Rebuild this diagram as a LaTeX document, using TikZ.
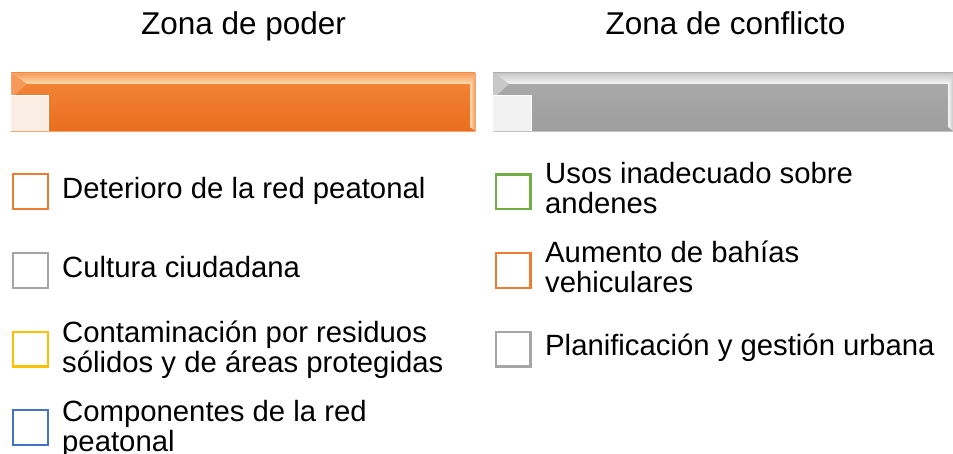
\documentclass[tikz,border=0pt]{standalone}
\usepackage{fontspec}
\setmainfont{Liberation Sans}
\definecolor{cOrange}{HTML}{ED7D31}
\definecolor{cGray}{HTML}{A5A5A5}
\definecolor{cYellow}{HTML}{FFC000}
\definecolor{cBlue}{HTML}{4472C4}
\definecolor{cGreen}{HTML}{70AD47}
\definecolor{oTop}{HTML}{F4873A}
\definecolor{oBot}{HTML}{EA6E1E}
\definecolor{oHiA}{HTML}{F59A58}
\definecolor{oHiB}{HTML}{FFDDB0}
\definecolor{oSq}{HTML}{FAEDE4}
\definecolor{oEdge}{HTML}{F5A66E}
\definecolor{gTop}{HTML}{ABABAB}
\definecolor{gBot}{HTML}{9E9E9E}
\definecolor{gHiA}{HTML}{C8C8C8}
\definecolor{gHiB}{HTML}{F6F6F6}
\definecolor{gSq}{HTML}{F2F2F2}
\definecolor{gEdge}{HTML}{C4C4C4}
\begin{document}
\begin{tikzpicture}[x=1pt,y=-1pt,
  ttl/.style={font=\fontsize{31.5}{34}\selectfont, inner sep=0pt, anchor=base},
  lbl/.style={font=\fontsize{29.3}{29.8}\selectfont, inner sep=0pt, align=left, anchor=base west},
  chk/.style={draw=#1, line width=2.4pt, fill=white, minimum size=34.6pt, inner sep=0pt}
]
\useasboundingbox (0,0) rectangle (953,454);

% titles
\node[ttl] (z1) at (243.5,35) {Zona de poder};
\node[ttl] (z2) at (725.5,35) {Zona de conflicto};

% orange bar
\shade[top color=oTop, bottom color=oBot] (11,73) rectangle (475,131);
\shade[top color=oHiA, bottom color=oHiB] (11,73) -- (475,73) -- (470,84) -- (27,84) -- cycle;
\shade[left color=oHiB, right color=oHiA] (475,73) -- (475,131) -- (470,127) -- (470,84) -- cycle;
\fill[oHiA] (11,73) -- (27,84) -- (15,95) -- (11,95) -- cycle;
\draw[oEdge, line width=0.8pt] (11,73) rectangle (475,131);
\fill[oSq] (11,95) rectangle (48,131);
\draw[white, line width=1pt] (11,95.5) -- (48,95.5) -- (48,131);

% gray bar
\shade[top color=gTop, bottom color=gBot] (493,73) rectangle (953,131);
\shade[top color=gHiA, bottom color=gHiB] (493,73) -- (953,73) -- (948,84) -- (509,84) -- cycle;
\shade[left color=gHiB, right color=gHiA] (953,73) -- (953,131) -- (948,127) -- (948,84) -- cycle;
\fill[gHiA] (493,73) -- (509,84) -- (497,95) -- (493,95) -- cycle;
\draw[gEdge, line width=0.8pt] (493,73) rectangle (953,131);
\fill[gSq] (493,95) rectangle (531,131);
\draw[white, line width=1pt] (493,95.5) -- (531,95.5) -- (531,131);

% left column
\node[chk=cOrange] (b1) at (30.5,191.5) {};
\node[lbl] (t1) at (62,199) {Deterioro de la red peatonal};
\node[chk=cGray] (b2) at (30.5,270.5) {};
\node[lbl] (t2) at (62,278) {Cultura ciudadana};
\node[chk=cYellow] (b3) at (30.5,349) {};
\node[lbl] (t3) at (62,372.5) {Contaminación por residuos\\sólidos y de áreas protegidas};
\node[chk=cBlue] (b4) at (30.5,427.5) {};
\node[lbl] (t4) at (62,451.5) {Componentes de la red\\peatonal};

% right column
\node[chk=cGreen] (r1) at (513,192) {};
\node[lbl] (u1) at (545,213.5) {Usos inadecuado sobre\\andenes};
\node[chk=cOrange] (r2) at (513,270.5) {};
\node[lbl] (u2) at (545,292.5) {Aumento de bahías\\vehiculares};
\node[chk=cGray] (r3) at (513,349) {};
\node[lbl] (u3) at (545,355) {Planificación y gestión urbana};
\end{tikzpicture}
\end{document}
